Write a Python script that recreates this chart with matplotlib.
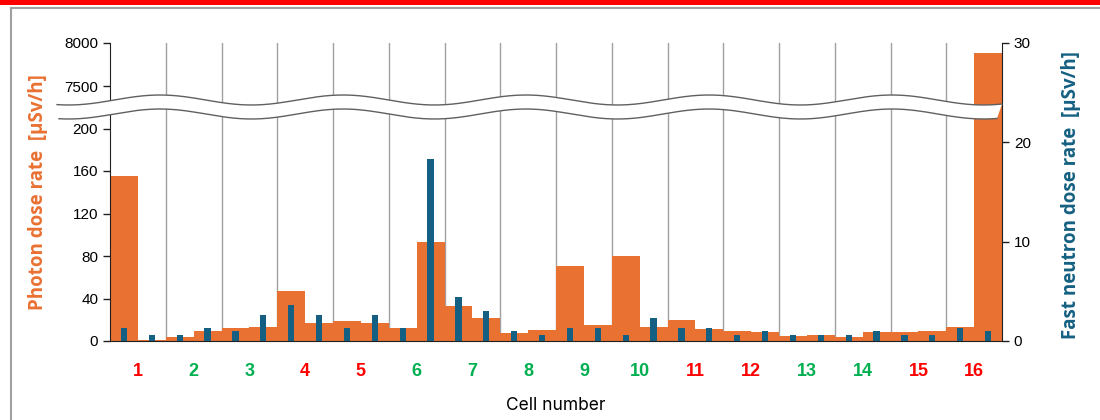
import numpy as np
import matplotlib
matplotlib.use("Agg")
import matplotlib.pyplot as plt
import matplotlib.transforms as mtransforms
from matplotlib.patches import Polygon, Rectangle
from matplotlib.lines import Line2D

# Data: two measurement positions per cell
cells = [str(i) for i in range(1, 17)]
cell_colors = ["red", "green", "green", "red", "red", "green", "green", "green",
               "green", "green", "red", "red", "green", "green", "red", "red"]

photon = [155, 1, 3.5, 9, 12, 13.5, 47, 17, 18.5, 17, 12, 93, 33, 22, 8, 10.5,
          71, 15.5, 80, 13.5, 20, 11, 9, 8.5, 4.5, 6, 3.5, 8.5, 8.5, 9, 13, 7880]
neutron = [1.3, 0.65, 0.65, 1.3, 1.0, 2.65, 3.6, 2.65, 1.3, 2.65, 1.3, 18.3,
           4.4, 3.0, 1.0, 0.65, 1.3, 1.3, 0.65, 2.35, 1.3, 1.3, 0.65, 1.0,
           0.65, 0.65, 0.65, 1.0, 0.65, 0.65, 1.3, 1.0]

photon_ticks = [0, 40, 80, 120, 160, 200, 7500, 8000]
neutron_ticks = [0, 10, 20, 30]

ORANGE = "#E97132"
BLUE = "#156082"
RED = "#FF0000"
GREEN = "#00B050"

# Broken left axis: 0-200 linear, then jump to 7500-8000
brk_in = [-1e5, 0, 200, 7500, 8000, 1e5]
brk_out = [-1e5 * 1.0625, 0, 212.5, 255, 298, 298 + (1e5 - 8000) * 0.086]


def fwd(v):
    return np.interp(v, brk_in, brk_out)


def inv(p):
    return np.interp(p, brk_out, brk_in)


plt.rcParams["font.family"] = ["Liberation Sans", "DejaVu Sans"]

fig = plt.figure(figsize=(11, 4.2), dpi=100)
ax = fig.add_axes([110 / 1100, 1 - 341 / 420, 892 / 1100, 298 / 420])

x = np.arange(len(photon)) + 0.5

ax.set_yscale("function", functions=(fwd, inv))
ax.bar(x, photon, width=1.0, color=ORANGE, zorder=2)
ax.set_ylim(0, 8000)
ax.set_xlim(0, 32)
ax.set_yticks(photon_ticks)
ax.set_yticklabels([str(t) for t in photon_ticks])
ax.yaxis.set_minor_locator(matplotlib.ticker.NullLocator())

# cell borders
ax.set_xticks(np.arange(2, 32, 2), minor=True)
ax.grid(which="minor", axis="x", color="#A0A0A0", lw=1)
ax.set_axisbelow(True)

ax.set_xticks(np.arange(1, 32, 2))
ax.set_xticklabels(cells)
for lab, c in zip(ax.get_xticklabels(), cell_colors):
    lab.set_color(RED if c == "red" else GREEN)
    lab.set_fontfamily(["Liberation Sans Narrow", "Liberation Sans", "DejaVu Sans"])
    lab.set_fontweight("bold")
    lab.set_fontsize(13)
ax.tick_params(axis="x", which="both", length=0, pad=16)
ax.tick_params(axis="y", labelsize=11, length=5, width=1, color="#202020")

for s in ["top", "right"]:
    ax.spines[s].set_visible(False)
ax.spines["left"].set_color("#202020")
ax.spines["bottom"].set_color("#202020")

ax.set_xlabel("Cell number", fontsize=12.5, family=["Inter", "DejaVu Sans"], labelpad=12)
ax.set_ylabel("Photon dose rate  [µSv/h]", color=ORANGE, fontsize=13.5,
              family=["Open Sans", "DejaVu Sans"], fontweight="bold")
ax.yaxis.set_label_coords(-0.069, 0.5)

ax2 = ax.twinx()
ax2.bar(x, neutron, width=0.22, color=BLUE, zorder=3)
ax2.set_ylim(0, 30)
ax2.set_yticks(neutron_ticks)
ax2.tick_params(axis="y", labelsize=11, length=5, width=1, color="#202020")
for s in ["top", "left", "bottom"]:
    ax2.spines[s].set_visible(False)
ax2.spines["right"].set_color("#202020")
ax2.set_ylabel("Fast neutron dose rate  [µSv/h]", color=BLUE, fontsize=13.5,
               family=["Open Sans", "DejaVu Sans"], fontweight="bold")
ax2.yaxis.set_label_coords(1.066, 0.49)

# pixel-based transform for decorations
px = mtransforms.Affine2D().scale(1 / 1100, -1 / 420).translate(0, 1) + fig.transFigure

# axis break band
xs_top = np.linspace(57, 1002, 400)
xs_bot = np.linspace(59, 997, 400)
top = 100 - 5 * np.cos(2 * np.pi * (xs_top - 160) / 183)
bot = 114 - 5 * np.cos(2 * np.pi * (xs_bot - 160) / 183)
poly = np.vstack([np.column_stack([xs_top, top]),
                  np.column_stack([xs_bot[::-1], bot[::-1]])])
fig.patches.append(Polygon(poly, closed=True, facecolor="white", edgecolor="none",
                           transform=px, zorder=10))
fig.lines.append(Line2D(xs_top, top, color="#606060", lw=1, transform=px, zorder=11))
fig.lines.append(Line2D(xs_bot, bot, color="#606060", lw=1, transform=px, zorder=11))

# slide frame
fig.patches.append(Rectangle((0, 0), 1100, 5, facecolor=RED, edgecolor="none",
                             transform=px, zorder=12))
fig.lines.append(Line2D([11, 1100], [8, 8], color="#A0A0A0", lw=1.5, transform=px, zorder=12))
fig.lines.append(Line2D([11, 11], [8, 420], color="#A0A0A0", lw=1.5, transform=px, zorder=12))

fig.savefig("out.png", dpi=100)
